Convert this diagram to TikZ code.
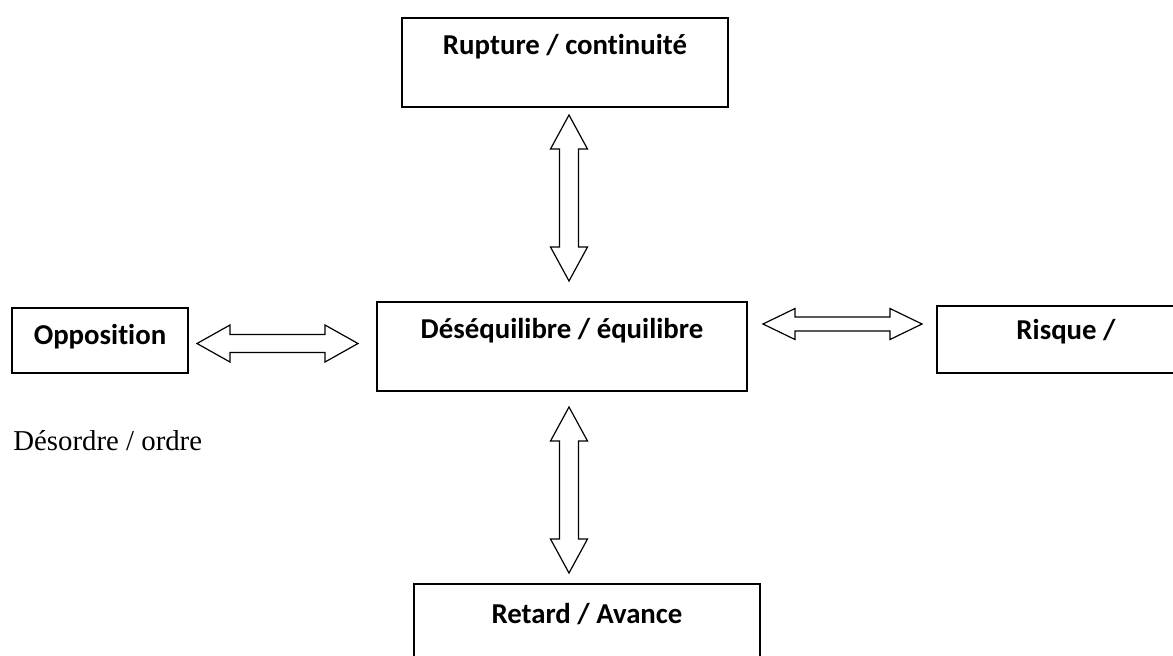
\documentclass[tikz,border=0pt]{standalone}
\usepackage{fontspec}
\setmainfont{Liberation Serif}
\setsansfont{Carlito}[Ligatures={NoCommon,NoContextual}]

\tikzset{
  box/.style={draw=black, line width=1pt, rectangle, inner sep=0pt},
  lbl/.style={font=\sffamily\bfseries\fontsize{14.4pt}{17pt}\selectfont, inner sep=0pt},
  arrowline/.style={draw=black, line width=0.6pt, line join=miter, fill=white},
}

% centre, angle, half length, head length, head half width, shaft half width
\newcommand{\dblarrow}[6]{%
  \draw[arrowline, shift={#1}, rotate=#2]
    (-#3,0) -- (-#3+#4,#5) -- (-#3+#4,#6) -- (#3-#4,#6) -- (#3-#4,#5) -- (#3,0)
    -- (#3-#4,-#5) -- (#3-#4,-#6) -- (-#3+#4,-#6) -- (-#3+#4,-#5) -- cycle;}

\begin{document}
\begin{tikzpicture}[x=0.5pt, y=-0.5pt]
\useasboundingbox (0,0) rectangle (1173,655);
\fill[white] (0,0) rectangle (1173,655);

%boxes
\node[box, minimum width=163pt, minimum height=44.5pt] (rup) at (565,62.5) {};
\node[box, minimum width=185pt, minimum height=44.5pt] (deseq) at (562,346.5) {};
\node[box, minimum width=88pt, minimum height=32.5pt] (oppo) at (100,340.5) {};
\node[box, minimum width=129pt, minimum height=33.5pt] (risk) at (1066,339.5) {};
\node[box, minimum width=173pt, minimum height=44.5pt] (ret) at (587,628.5) {};

%labels
\node[lbl] (ruptxt) at ([yshift=-15pt]rup.north) {Rupture / continuité};
\node[lbl] (deseqtxt) at ([yshift=-15pt]deseq.north) {Déséquilibre / équilibre};
\node[lbl] (oppotxt) at ([yshift=-15pt]oppo.north) {Opposition};
\node[lbl] (risktxt) at ([yshift=-13.5pt]risk.north) {Risque /};
\node[lbl] (rettxt) at ([yshift=-15.5pt]ret.north) {Retard / Avance};

%arrows
\dblarrow{(569,198)}{90}{83}{34}{18.5}{9.5}
\dblarrow{(569,490)}{90}{83}{34}{18.5}{9.5}
\dblarrow{(277.5,343.5)}{0}{80.5}{33}{18.5}{9}
\dblarrow{(842.5,324)}{0}{79.5}{32}{15.5}{7}

%free text
\node[anchor=base west, inner sep=0pt, font=\fontsize{14.4pt}{17pt}\selectfont] (desordre) at (13,450) {Désordre / ordre};

\end{tikzpicture}
\end{document}
